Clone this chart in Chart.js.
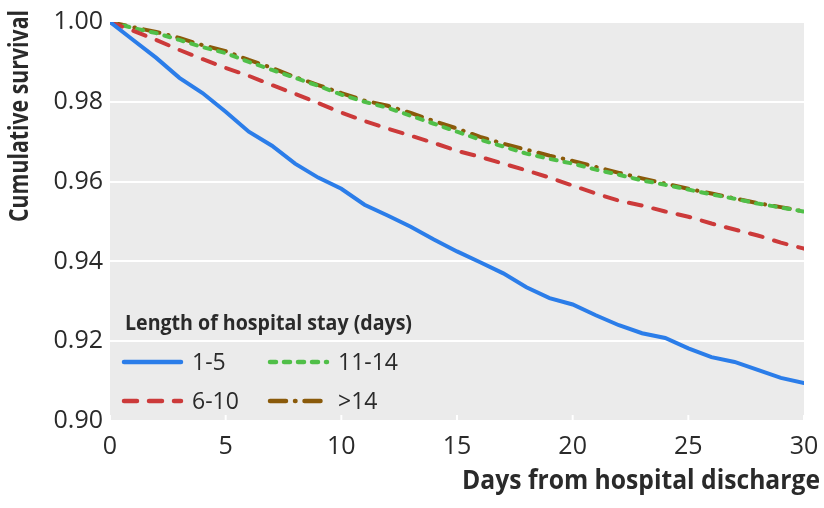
<!DOCTYPE html>
<html>
<head>
<meta charset="utf-8">
<title>Cumulative survival by length of hospital stay</title>
<script src="https://cdn.jsdelivr.net/npm/chart.js@4.4.1/dist/chart.umd.min.js"></script>
<style>
  html, body { margin: 0; padding: 0; background: #fff; }
  #wrap { width: 824px; height: 508px; position: relative; }
</style>
</head>
<body>
<div id="wrap"><canvas id="chart" width="824" height="508"></canvas></div>
<script>
// Données (survie cumulée par jour après la sortie)
const days = [0, 1, 2, 3, 4, 5, 6, 7, 8, 9, 10, 11, 12, 13, 14, 15,
              16, 17, 18, 19, 20, 21, 22, 23, 24, 25, 26, 27, 28, 29, 30];

const stay1to5 = [1.000, 0.9955, 0.9910, 0.9860, 0.9822, 0.9775, 0.9725, 0.9690, 0.9645, 0.9610,
                  0.9582, 0.9542, 0.9515, 0.9487, 0.9455, 0.9425, 0.9398, 0.9370, 0.9335, 0.9308,
                  0.9292, 0.9265, 0.9240, 0.9220, 0.9208, 0.9182, 0.9160, 0.9148, 0.9128, 0.9108, 0.9095];

const stay6to10 = [1.000, 0.9978, 0.9955, 0.9930, 0.9907, 0.9885, 0.9865, 0.9842, 0.9820, 0.9797,
                   0.9773, 0.9752, 0.9733, 0.9715, 0.9697, 0.9677, 0.9662, 0.9645, 0.9628, 0.9610,
                   0.9590, 0.9570, 0.9552, 0.9540, 0.9525, 0.9512, 0.9495, 0.9480, 0.9465, 0.9447, 0.9432];

const stay11to14 = [1.000, 0.9985, 0.9972, 0.9955, 0.9937, 0.9922, 0.9900, 0.9880, 0.9860, 0.9840,
                    0.9818, 0.9800, 0.9785, 0.9765, 0.9745, 0.9725, 0.9705, 0.9688, 0.9670, 0.9657,
                    0.9645, 0.9630, 0.9617, 0.9603, 0.9592, 0.9580, 0.9568, 0.9557, 0.9545, 0.9535, 0.9525];

const stayOver14 = [1.000, 0.9987, 0.9975, 0.9960, 0.9942, 0.9927, 0.9905, 0.9885, 0.9862, 0.9842,
                    0.9822, 0.9803, 0.9790, 0.9772, 0.9752, 0.9733, 0.9712, 0.9695, 0.9680, 0.9665,
                    0.9652, 0.9637, 0.9622, 0.9608, 0.9595, 0.9582, 0.9570, 0.9558, 0.9546, 0.9536, 0.9525];

const seriesLabels = ['1-5', '6-10', '11-14', '>14'];
const xTicks = [0, 5, 10, 15, 20, 25, 30];
const yTicks = [0.90, 0.92, 0.94, 0.96, 0.98, 1.00];

const legendTitle = 'Length of hospital stay (days)';
const xTitle = 'Days from hospital discharge';
const yTitle = 'Cumulative survival';

// styles
const colors = ['#2b7de9', '#cc3a3a', '#50bf48', '#8a5a0a'];
const dashes = [[], [13, 12], [6, 8], [16, 9, 0.5, 9]];
const textColor = '#2a2a2a';
const tickFont = '"Open Sans", "Noto Sans", sans-serif';

function toPoints(values) {
    return days.map((d, i) => ({ x: d, y: values[i] }));
}

const seriesValues = [stay1to5, stay6to10, stay11to14, stayOver14];

// texte compressé pour imiter la police étroite de l'original
function fitText(ctx, text, x, y, width, align) {
    const w = ctx.measureText(text).width;
    const k = Math.min(1, width / w);
    ctx.save();
    ctx.translate(x, y);
    ctx.scale(k, 1);
    ctx.textAlign = align;
    ctx.fillText(text, 0, 0);
    ctx.restore();
}

// fond gris + petites graduations blanches
const panelPlugin = {
    id: 'panel',
    beforeDraw(chart) {
        const { ctx, chartArea } = chart;
        ctx.save();
        ctx.fillStyle = '#ebebeb';
        ctx.fillRect(chartArea.left, chartArea.top, chartArea.right - chartArea.left, chartArea.bottom - chartArea.top);
        ctx.restore();
    },
    beforeDatasetsDraw(chart) {
        const { ctx, chartArea, scales } = chart;
        ctx.save();
        ctx.strokeStyle = '#ffffff';
        ctx.lineWidth = 2;
        xTicks.forEach(t => {
            const px = scales.x.getPixelForValue(t);
            ctx.beginPath();
            ctx.moveTo(px, chartArea.bottom);
            ctx.lineTo(px, chartArea.bottom - 6);
            ctx.stroke();
        });
        ctx.restore();
    }
};

// légende dans le graphique + titres des axes
const legendPlugin = {
    id: 'insideLegend',
    afterDraw(chart) {
        const { ctx } = chart;
        ctx.save();
        ctx.fillStyle = textColor;

        ctx.font = 'bold 22px "Open Sans", "Noto Sans", sans-serif';
        ctx.textBaseline = 'alphabetic';
        fitText(ctx, legendTitle, 125, 330, 287, 'left');

        const rowY = [362, 401];
        const colX = [122, 268];
        ctx.font = '23px ' + tickFont;
        ctx.textBaseline = 'middle';
        chart.data.datasets.forEach((ds, i) => {
            const col = Math.floor(i / 2);
            const row = i % 2;
            const x0 = colX[col];
            const y0 = rowY[row];
            ctx.save();
            ctx.strokeStyle = ds.borderColor;
            ctx.lineWidth = 4.5;
            ctx.lineCap = 'round';
            ctx.setLineDash(ds.borderDash);
            ctx.beginPath();
            ctx.moveTo(x0 + 2, y0);
            ctx.lineTo(x0 + 59, y0);
            ctx.stroke();
            ctx.restore();
            ctx.fillStyle = textColor;
            ctx.textAlign = 'left';
            ctx.fillText(ds.label, x0 + 70, y0 + 1);
        });

        ctx.font = 'bold 26px "Open Sans", "Noto Sans", sans-serif';
        ctx.textBaseline = 'alphabetic';
        fitText(ctx, xTitle, 820, 489, 358, 'right');

        ctx.save();
        ctx.translate(28, 10);
        ctx.rotate(-Math.PI / 2);
        fitText(ctx, yTitle, 0, 0, 212, 'right');
        ctx.restore();

        ctx.restore();
    }
};

const ctx = document.getElementById('chart').getContext('2d');
new Chart(ctx, {
    type: 'line',
    data: {
        datasets: seriesLabels.map((label, i) => ({
            label: label,
            data: toPoints(seriesValues[i]),
            borderColor: colors[i],
            backgroundColor: colors[i],
            borderDash: dashes[i],
            borderWidth: 4,
            borderCapStyle: 'round',
            pointRadius: 0,
            tension: 0,
            fill: false
        }))
    },
    options: {
        responsive: false,
        animation: false,
        devicePixelRatio: 1,
        layout: { padding: { top: 19, right: 20, left: 0, bottom: 0 } },
        plugins: {
            legend: { display: false },
            tooltip: { enabled: false }
        },
        scales: {
            x: {
                type: 'linear',
                min: 0,
                max: 30,
                afterBuildTicks: scale => { scale.ticks = xTicks.map(v => ({ value: v })); },
                afterFit: scale => { scale.height = 87; },
                grid: { display: false },
                border: { display: false },
                ticks: {
                    color: textColor,
                    padding: 3,
                    maxRotation: 0,
                    font: { family: tickFont, size: 25 }
                }
            },
            y: {
                type: 'linear',
                min: 0.90,
                max: 1.00,
                afterBuildTicks: scale => { scale.ticks = yTicks.map(v => ({ value: v })); },
                afterFit: scale => { scale.width = 110; },
                grid: { color: '#ffffff', lineWidth: 2, drawTicks: false },
                border: { display: false },
                ticks: {
                    color: textColor,
                    padding: 7,
                    font: { family: tickFont, size: 25 },
                    callback: v => v.toFixed(2)
                }
            }
        }
    },
    plugins: [panelPlugin, legendPlugin]
});
</script>
</body>
</html>
